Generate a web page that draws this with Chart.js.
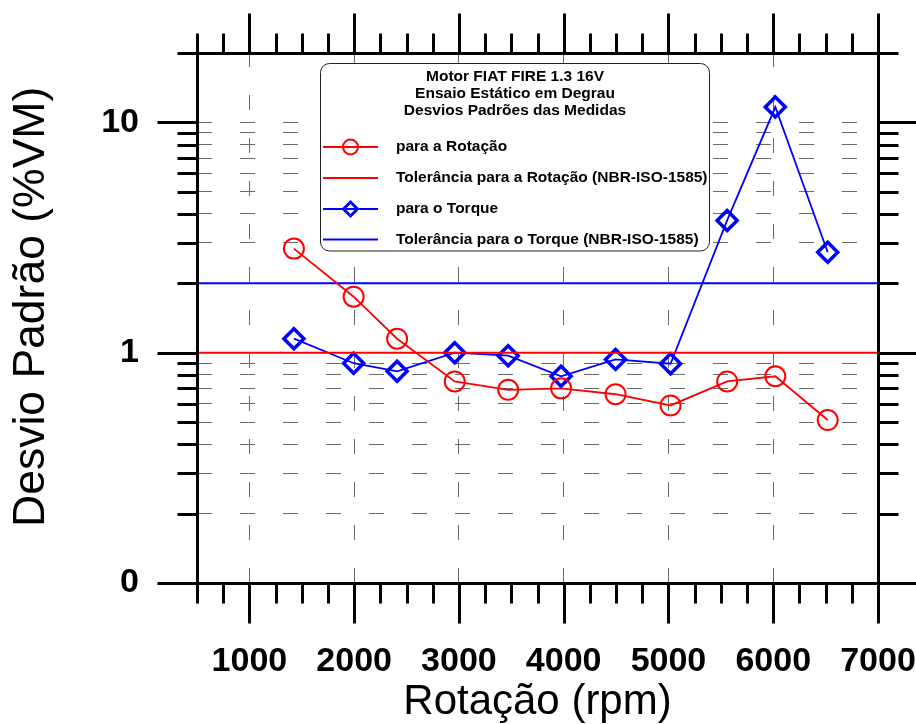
<!DOCTYPE html>
<html>
<head>
<meta charset="utf-8">
<script src="https://cdn.jsdelivr.net/npm/chart.js@4.4.1/dist/chart.umd.min.js"></script>
<style>
html,body{margin:0;padding:0;background:#fff;}
#wrap{width:916px;height:724px;position:relative;}
</style>
</head>
<body>
<div id="wrap"><canvas id="c" width="916" height="724"></canvas></div>
<script>
// ---- data ----
const rotacaoRpm = [1425, 1995, 2410, 2960, 3470, 3975, 4495, 5020, 5560, 6020, 6520];
const desvioRotacao = [2.83, 1.75, 1.15, 0.75, 0.69, 0.70, 0.66, 0.59, 0.75, 0.79, 0.51];
const desvioTorque = [1.15, 0.90, 0.83, 1.00, 0.97, 0.79, 0.935, 0.895, 3.75, 11.65, 2.73];
const toleranciaRotacao = 1;
const toleranciaTorque = 2;
const xRange = [500, 7000];
const yRange = [0.1, 20];
const xMajorTicks = [1000, 2000, 3000, 4000, 5000, 6000, 7000];
const xMinorTicks = [500, 750, 1250, 1500, 1750, 2250, 2500, 2750, 3250, 3500, 3750, 4250, 4500, 4750, 5250, 5500, 5750, 6250, 6500, 6750];
const yMajorTicks = [0.1, 1, 10];
const yMinorTicks = [0.2, 0.3, 0.4, 0.5, 0.6, 0.7, 0.8, 0.9, 2, 3, 4, 5, 6, 7, 8, 9, 20];
const yLabelValues = [0.1, 1, 10];
const yLabelTexts = ['0', '1', '10'];
const xTitle = 'Rotação (rpm)';
const yTitle = 'Desvio Padrão (%VM)';
const legendTitle = ['Motor FIAT FIRE 1.3 16V', 'Ensaio Estático em Degrau', 'Desvios Padrões das Medidas'];
const seriesNames = ['para a Rotação', 'Tolerância para a Rotação (NBR-ISO-1585)', 'para o Torque', 'Tolerância para o Torque (NBR-ISO-1585)'];

// ---- styles ----
const RED = '#ff0000', BLUE = '#0000ff';
const FONT = "'Liberation Sans', Arial, Helvetica, sans-serif";
Chart.defaults.font.family = FONT;
Chart.defaults.color = '#000';

const gridColor = '#6a6a6a';
const yGridTicks = yMajorTicks.concat(yMinorTicks).sort((a, b) => a - b);

const ptsRot = rotacaoRpm.map((x, i) => ({x: x, y: desvioRotacao[i]}));
const ptsTor = rotacaoRpm.map((x, i) => ({x: x, y: desvioTorque[i]}));
const tolRot = xRange.map(x => ({x: x, y: toleranciaRotacao}));
const tolTor = xRange.map(x => ({x: x, y: toleranciaTorque}));

const framePlugin = {
  id: 'frame',
  afterDraw(chart) {
    const {ctx, chartArea: a, scales: {x, y}} = chart;
    ctx.save();
    ctx.strokeStyle = '#000';
    ctx.lineWidth = 3;
    ctx.lineCap = 'butt';
    const seg = (x1, y1, x2, y2) => { ctx.beginPath(); ctx.moveTo(x1, y1); ctx.lineTo(x2, y2); ctx.stroke(); };
    const L = a.left + 0.5, R = a.right + 0.5, T = a.top + 0.5, B = a.bottom + 0.5;
    ctx.beginPath();
    ctx.moveTo(L, T); ctx.lineTo(R, T); ctx.lineTo(R, B); ctx.lineTo(L, B); ctx.closePath();
    ctx.stroke();
    const MAJ = 40, MIN = 20;
    const xt = (v, len) => { const p = Math.round(x.getPixelForValue(v)) + 0.5; seg(p, B, p, B + len); seg(p, T, p, T - len); };
    const yt = (v, len) => { const p = Math.round(y.getPixelForValue(v)) + 0.5; seg(L, p, L - len, p); seg(R, p, R + len, p); };
    xMajorTicks.forEach(v => xt(v, MAJ));
    xMinorTicks.forEach(v => xt(v, MIN));
    yMajorTicks.forEach(v => yt(v, MAJ));
    yMinorTicks.forEach(v => yt(v, MIN));
    ctx.restore();
  }
};

const legendPlugin = {
  id: 'boxLegend',
  afterDraw(chart) {
    const ctx = chart.ctx;
    const bx = 320.5, by = 63.5, bw = 389, bh = 187.5, r = 9;
    ctx.save();
    ctx.beginPath();
    ctx.moveTo(bx + r, by);
    ctx.arcTo(bx + bw, by, bx + bw, by + bh, r);
    ctx.arcTo(bx + bw, by + bh, bx, by + bh, r);
    ctx.arcTo(bx, by + bh, bx, by, r);
    ctx.arcTo(bx, by, bx + bw, by, r);
    ctx.closePath();
    ctx.fillStyle = '#fff';
    ctx.fill();
    ctx.strokeStyle = '#222';
    ctx.lineWidth = 1;
    ctx.stroke();

    ctx.fillStyle = '#000';
    ctx.font = 'bold 15.5px ' + FONT;
    ctx.textAlign = 'center';
    ctx.textBaseline = 'middle';
    const tY = [77, 94, 111];
    legendTitle.forEach((t, i) => ctx.fillText(t, bx + bw / 2, tY[i]));

    const iY = [147, 178, 209, 239.5];
    const colors = [RED, RED, BLUE, BLUE];
    const markers = ['circle', null, 'diamond', null];
    ctx.textAlign = 'left';
    seriesNames.forEach((t, i) => {
      const yy = iY[i];
      ctx.strokeStyle = colors[i];
      ctx.lineWidth = 2;
      ctx.beginPath(); ctx.moveTo(323, yy); ctx.lineTo(378, yy); ctx.stroke();
      const mx = 350.5;
      if (markers[i] === 'circle') {
        ctx.lineWidth = 2;
        ctx.beginPath(); ctx.arc(mx, yy, 7.5, 0, Math.PI * 2); ctx.stroke();
      } else if (markers[i] === 'diamond') {
        ctx.lineWidth = 3;
        ctx.beginPath();
        ctx.moveTo(mx - 7, yy); ctx.lineTo(mx, yy - 7); ctx.lineTo(mx + 7, yy); ctx.lineTo(mx, yy + 7); ctx.closePath();
        ctx.stroke();
      }
      ctx.fillStyle = '#000';
      ctx.fillText(t, 396, yy);
    });
    ctx.restore();
  }
};

new Chart(document.getElementById('c'), {
  type: 'line',
  data: {
    datasets: [
      {label: seriesNames[0], data: ptsRot, borderColor: RED, borderWidth: 1.8, backgroundColor: 'rgba(0,0,0,0)',
       pointStyle: 'circle', pointRadius: 10, pointBorderWidth: 2, pointBorderColor: RED, pointBackgroundColor: 'rgba(0,0,0,0)', order: 2},
      {label: seriesNames[1], data: tolRot, borderColor: RED, borderWidth: 2, pointRadius: 0, order: 1},
      {label: seriesNames[2], data: ptsTor, borderColor: BLUE, borderWidth: 1.8, backgroundColor: 'rgba(0,0,0,0)',
       pointStyle: 'rectRot', pointRadius: 10, pointBorderWidth: 3.5, pointBorderColor: BLUE, pointBackgroundColor: 'rgba(0,0,0,0)', order: 3},
      {label: seriesNames[3], data: tolTor, borderColor: BLUE, borderWidth: 2, pointRadius: 0, order: 4}
    ]
  },
  options: {
    responsive: false,
    animation: false,
    devicePixelRatio: 1,
    layout: {padding: {top: 53, right: 38, left: 0, bottom: 0}},
    plugins: {legend: {display: false}, tooltip: {enabled: false}},
    elements: {line: {tension: 0}},
    scales: {
      x: {
        type: 'linear', position: 'bottom', min: xRange[0], max: xRange[1],
        afterBuildTicks: s => { s.ticks = xMajorTicks.map(v => ({value: v})); },
        afterFit: s => { s.height = 141; s.paddingLeft = 0; s.paddingRight = 0; },
        ticks: {autoSkip: false, maxRotation: 0, minRotation: 0, padding: 58, color: '#000',
                font: {size: 34, weight: 'bold'}, callback: v => String(v)},
        grid: {drawTicks: false, lineWidth: 1,
               color: c => (c.tick && c.tick.value === xRange[1]) ? 'rgba(0,0,0,0)' : gridColor},
        border: {display: false, dash: [15, 28], dashOffset: 1},
        title: {display: true, text: xTitle, color: '#000', font: {size: 42, weight: 'normal'}, padding: {top: 0, bottom: -4}}
      },
      y: {
        type: 'logarithmic', position: 'left', min: yRange[0], max: yRange[1],
        afterBuildTicks: s => { s.ticks = yGridTicks.map(v => ({value: v})); },
        afterFit: s => { s.width = 197; s.paddingTop = 0; s.paddingBottom = 0; },
        ticks: {autoSkip: false, padding: 58, color: '#000', font: {size: 34, weight: 'bold'},
                callback: v => { const i = yLabelValues.indexOf(v); return i >= 0 ? yLabelTexts[i] : ''; }},
        grid: {drawTicks: false, lineWidth: 1,
               color: c => { const v = c.tick && c.tick.value; return (v === yRange[0] || v === yRange[1] || v === toleranciaRotacao || v === toleranciaTorque) ? 'rgba(0,0,0,0)' : gridColor; }},
        border: {display: false, dash: [15, 28], dashOffset: 0},
        title: {display: true, text: '\u2002' + yTitle, color: '#000', font: {size: 44.5, weight: 'normal'}, padding: {top: 5, bottom: 0}}
      }
    }
  },
  plugins: [framePlugin, legendPlugin]
});
</script>
</body>
</html>
